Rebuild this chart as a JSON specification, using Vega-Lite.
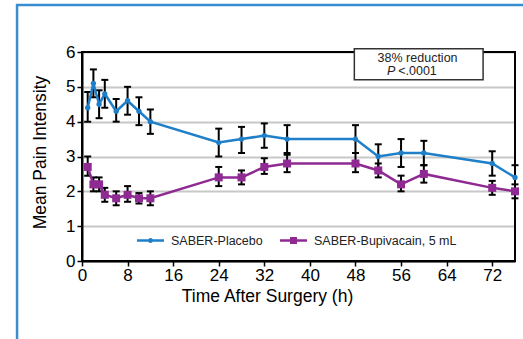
{
  "$schema": "https://vega.github.io/schema/vega-lite/v6.json",
  "autosize": "none",
  "width": 433,
  "height": 209,
  "padding": {"left": 82, "top": 52, "right": 8, "bottom": 78},
  "background": "white",
  "config": {
    "font": "Liberation Sans",
    "view": {"stroke": null},
    "axis": {"labelFont": "Liberation Sans", "titleFont": "Liberation Sans", "labelColor": "black", "titleColor": "black", "titleFontWeight": "normal"}
  },
  "datasets": {
    "pain": [
    {"t": 1, "series": "SABER-Placebo", "mean": 4.4, "lo": 4.0, "hi": 4.85},
    {"t": 2, "series": "SABER-Placebo", "mean": 5.1, "lo": 4.7, "hi": 5.5},
    {"t": 3, "series": "SABER-Placebo", "mean": 4.5, "lo": 4.1, "hi": 4.9},
    {"t": 4, "series": "SABER-Placebo", "mean": 4.8, "lo": 4.4, "hi": 5.2},
    {"t": 6, "series": "SABER-Placebo", "mean": 4.3, "lo": 4.0, "hi": 4.65},
    {"t": 8, "series": "SABER-Placebo", "mean": 4.6, "lo": 4.2, "hi": 5.0},
    {"t": 10, "series": "SABER-Placebo", "mean": 4.3, "lo": 3.9, "hi": 4.7},
    {"t": 12, "series": "SABER-Placebo", "mean": 4.0, "lo": 3.65, "hi": 4.35},
    {"t": 24, "series": "SABER-Placebo", "mean": 3.4, "lo": 3.0, "hi": 3.8},
    {"t": 28, "series": "SABER-Placebo", "mean": 3.5, "lo": 3.1, "hi": 3.85},
    {"t": 32, "series": "SABER-Placebo", "mean": 3.6, "lo": 3.25, "hi": 3.95},
    {"t": 36, "series": "SABER-Placebo", "mean": 3.5, "lo": 3.1, "hi": 3.9},
    {"t": 48, "series": "SABER-Placebo", "mean": 3.5, "lo": 3.1, "hi": 3.9},
    {"t": 52, "series": "SABER-Placebo", "mean": 3.0, "lo": 2.65, "hi": 3.35},
    {"t": 56, "series": "SABER-Placebo", "mean": 3.1, "lo": 2.7, "hi": 3.5},
    {"t": 60, "series": "SABER-Placebo", "mean": 3.1, "lo": 2.75, "hi": 3.45},
    {"t": 72, "series": "SABER-Placebo", "mean": 2.8, "lo": 2.45, "hi": 3.15},
    {"t": 76, "series": "SABER-Placebo", "mean": 2.4, "lo": 2.05, "hi": 2.75},
    {"t": 1, "series": "SABER-Bupivacain, 5 mL", "mean": 2.7, "lo": 2.45, "hi": 3.0},
    {"t": 2, "series": "SABER-Bupivacain, 5 mL", "mean": 2.2, "lo": 2.0, "hi": 2.4},
    {"t": 3, "series": "SABER-Bupivacain, 5 mL", "mean": 2.2, "lo": 2.0, "hi": 2.4},
    {"t": 4, "series": "SABER-Bupivacain, 5 mL", "mean": 1.9, "lo": 1.7, "hi": 2.1},
    {"t": 6, "series": "SABER-Bupivacain, 5 mL", "mean": 1.8, "lo": 1.6, "hi": 2.0},
    {"t": 8, "series": "SABER-Bupivacain, 5 mL", "mean": 1.9, "lo": 1.7, "hi": 2.15},
    {"t": 10, "series": "SABER-Bupivacain, 5 mL", "mean": 1.8, "lo": 1.65, "hi": 1.95},
    {"t": 12, "series": "SABER-Bupivacain, 5 mL", "mean": 1.8, "lo": 1.6, "hi": 2.0},
    {"t": 24, "series": "SABER-Bupivacain, 5 mL", "mean": 2.4, "lo": 2.15, "hi": 2.7},
    {"t": 28, "series": "SABER-Bupivacain, 5 mL", "mean": 2.4, "lo": 2.2, "hi": 2.6},
    {"t": 32, "series": "SABER-Bupivacain, 5 mL", "mean": 2.7, "lo": 2.5, "hi": 2.95},
    {"t": 36, "series": "SABER-Bupivacain, 5 mL", "mean": 2.8, "lo": 2.55, "hi": 3.05},
    {"t": 48, "series": "SABER-Bupivacain, 5 mL", "mean": 2.8, "lo": 2.55, "hi": 3.1},
    {"t": 52, "series": "SABER-Bupivacain, 5 mL", "mean": 2.6, "lo": 2.4, "hi": 2.8},
    {"t": 56, "series": "SABER-Bupivacain, 5 mL", "mean": 2.2, "lo": 2.0, "hi": 2.45},
    {"t": 60, "series": "SABER-Bupivacain, 5 mL", "mean": 2.5, "lo": 2.25, "hi": 2.75},
    {"t": 72, "series": "SABER-Bupivacain, 5 mL", "mean": 2.1, "lo": 1.9, "hi": 2.3},
    {"t": 76, "series": "SABER-Bupivacain, 5 mL", "mean": 2.0, "lo": 1.8, "hi": 2.2}
    ],
    "one": [{}]
  },
  "data": {"name": "pain"},
  "layer": [
    {
      "mark": {"type": "rule", "color": "black", "strokeWidth": 2},
      "encoding": {
        "x": {"field": "t", "type": "quantitative", "scale": {"domain": [0, 76], "nice": false, "zero": false},
          "axis": {"values": [0, 8, 16, 24, 32, 40, 48, 56, 64, 72], "title": "Time After Surgery (h)", "titleFontSize": 17.5, "labelFontSize": 17, "grid": false, "domainColor": "black", "domainWidth": 2, "tickColor": "black", "tickWidth": 1.5, "tickSize": 5, "labelPadding": 1, "titlePadding": 4, "titleX": 185, "labelFlush": false, "labelOverlap": false}},
        "y": {"field": "lo", "type": "quantitative", "scale": {"domain": [0, 6], "nice": false, "zero": false},
          "axis": {"values": [0, 1, 2, 3, 4, 5, 6], "tickCount": 7, "title": "Mean Pain Intensity", "titleFontSize": 17.5, "labelFontSize": 17, "grid": true, "labelOverlap": false,
            "gridColor": "#c8c8c8",
            "gridWidth": 2, "domainColor": "black", "domainWidth": 2, "tickColor": "black", "tickWidth": 1.5, "tickSize": 5, "labelPadding": 2, "titlePadding": 16, "titleY": 100, "labelFlush": false}},
        "y2": {"field": "hi"}
      }
    },
    {
      "data": {"name": "one"},
      "mark": {"type": "rect", "fill": null, "stroke": "#3a8ed0", "strokeWidth": 2.5, "clip": false},
      "encoding": {
        "x": {"datum": -11.4, "type": "quantitative"},
        "x2": {"datum": 100},
        "y": {"datum": 7.35, "type": "quantitative"},
        "y2": {"datum": -5}
      }
    },
    {
      "data": {"name": "one"},
      "mark": {"type": "rect", "fill": null, "stroke": "black", "strokeWidth": 2, "clip": false},
      "encoding": {
        "x": {"datum": 0, "type": "quantitative"},
        "x2": {"datum": 76},
        "y": {"datum": 6, "type": "quantitative"},
        "y2": {"datum": 0}
      }
    },
    {
      "mark": {"type": "tick", "orient": "horizontal", "color": "black", "size": 7, "thickness": 2, "opacity": 1},
      "encoding": {
        "x": {"field": "t", "type": "quantitative"},
        "y": {"field": "lo", "type": "quantitative"}
      }
    },
    {
      "mark": {"type": "tick", "orient": "horizontal", "color": "black", "size": 7, "thickness": 2, "opacity": 1},
      "encoding": {
        "x": {"field": "t", "type": "quantitative"},
        "y": {"field": "hi", "type": "quantitative"}
      }
    },
    {
      "mark": {"type": "line", "strokeWidth": 2.5},
      "encoding": {
        "x": {"field": "t", "type": "quantitative"},
        "y": {"field": "mean", "type": "quantitative"},
        "color": {"field": "series", "type": "nominal", "scale": {"domain": ["SABER-Placebo", "SABER-Bupivacain, 5 mL"], "range": ["#1f7fc8", "#8e2a92"]}}
      }
    },
    {
      "transform": [{"filter": "datum.series === 'SABER-Placebo'"}],
      "mark": {"type": "point", "shape": "circle", "filled": true, "size": 28, "opacity": 1, "color": "#1f7fc8"},
      "encoding": {
        "x": {"field": "t", "type": "quantitative"},
        "y": {"field": "mean", "type": "quantitative"}
      }
    },
    {
      "transform": [{"filter": "datum.series !== 'SABER-Placebo'"}],
      "mark": {"type": "point", "shape": "square", "filled": true, "size": 64, "opacity": 1, "color": "#8e2a92"},
      "encoding": {
        "x": {"field": "t", "type": "quantitative"},
        "y": {"field": "mean", "type": "quantitative"}
      }
    },
    {
      "transform": [{"filter": "false"}],
      "mark": {"type": "point", "filled": true, "opacity": 1},
      "encoding": {
        "x": {"field": "t", "type": "quantitative"},
        "y": {"field": "mean", "type": "quantitative"},
        "color": {"field": "series", "type": "nominal", "scale": {"domain": ["SABER-Placebo", "SABER-Bupivacain, 5 mL"], "range": ["#1f7fc8", "#8e2a92"]},
          "legend": {"orient": "none", "direction": "horizontal", "legendX": 55, "legendY": 175, "title": null, "symbolSize": 729, "labelFontSize": 12.5, "labelColor": "#222", "labelFont": "Liberation Sans", "labelOffset": 7, "columnPadding": 17, "symbolStrokeWidth": 0, "symbolOpacity": 1}},
        "shape": {"field": "series", "type": "nominal", "scale": {"domain": ["SABER-Placebo", "SABER-Bupivacain, 5 mL"], "range": ["M-1,-0.093H1V0.093H-1Z M-0.19,0A0.19,0.19 0 1 1 0.19,0A0.19,0.19 0 1 1 -0.19,0Z", "M-1,-0.093H1V0.093H-1Z M-0.26,-0.26H0.26V0.26H-0.26Z"]},
          "legend": {"orient": "none", "direction": "horizontal", "legendX": 55, "legendY": 175, "title": null, "symbolSize": 729, "labelFontSize": 12.5, "labelColor": "#222", "labelFont": "Liberation Sans", "labelOffset": 7, "columnPadding": 17, "symbolStrokeWidth": 0, "symbolOpacity": 1}}
      }
    },
    {
      "data": {"name": "one"},
      "mark": {"type": "rect", "fill": "white", "stroke": "#333", "strokeWidth": 1.5, "clip": false},
      "encoding": {
        "x": {"datum": 47.8, "type": "quantitative"},
        "x2": {"datum": 70.4},
        "y": {"datum": 6.09, "type": "quantitative"},
        "y2": {"datum": 5.2}
      }
    },
    {
      "data": {"name": "one"},
      "mark": {"type": "text", "fontSize": 12.5, "font": "Liberation Sans", "color": "#222", "align": "center", "baseline": "middle", "text": "38% reduction"},
      "encoding": {
        "x": {"datum": 58.9, "type": "quantitative"},
        "y": {"datum": 5.84, "type": "quantitative"}
      }
    },
    {
      "data": {"name": "one"},
      "mark": {"type": "text", "fontSize": 12.5, "font": "Liberation Sans", "fontStyle": "italic", "color": "#222", "align": "right", "baseline": "middle", "text": "P"},
      "encoding": {
        "x": {"datum": 55.0, "type": "quantitative"},
        "y": {"datum": 5.455, "type": "quantitative"}
      }
    },
    {
      "data": {"name": "one"},
      "mark": {"type": "text", "fontSize": 12.5, "font": "Liberation Sans", "color": "#222", "align": "left", "baseline": "middle", "text": "<.0001"},
      "encoding": {
        "x": {"datum": 55.5, "type": "quantitative"},
        "y": {"datum": 5.455, "type": "quantitative"}
      }
    }
  ]
}
